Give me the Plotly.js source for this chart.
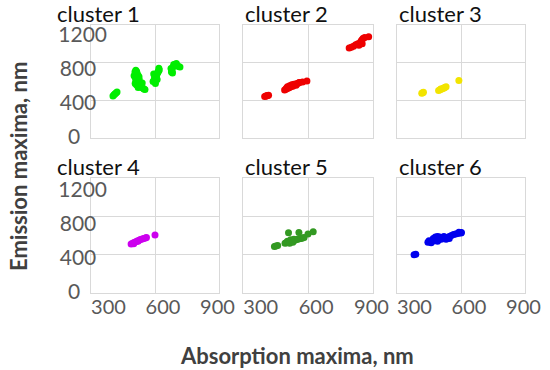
<!DOCTYPE html>
<html><head><meta charset="utf-8">
<script src="https://cdn.plot.ly/plotly-3.0.1.min.js"></script>
<style>html,body{margin:0;padding:0;background:#fff}#chart{width:550px;height:370px}</style>
</head><body><div id="chart"></div>
<script>
const clusterNames = ["cluster 1","cluster 2","cluster 3","cluster 4","cluster 5","cluster 6"];
const clusterColors = ["#00ee00","#ee0000","#f2e400","#cc00ee","#339922","#0000ee"];
const xTickVals = [300,600,900];
const xTickText = ["300","600","900"];
const yTickVals = [0,400,800,1200];
const yTickText = ["0\u00a0\u00a0\u00a0\u00a0\u00a0","400\u00a0\u00a0","800\u00a0\u00a0","1200"];

const x1 = [403,408,412,417,422, 506,510,515,520,525,508,512,518,522,507,513,519,524,510,516,521,528,535,542,548,553,530,540,502,514,526,538, 591,596,600,604,608,612,616,620,598,606,614,602,610,594,618, 675,678,680,682,677,684,690,697,704,710,717,700,688];
const y1 = [446,458,467,477,488, 700,720,690,670,650,640,625,610,595,580,565,555,545,600,570,535,560,540,530,520,515,575,585,660,705,620,545, 600,615,630,650,670,690,710,722,640,660,700,580,620,680,740, 738,720,705,690,700,754,765,775,770,760,754,790,780];
const x2 = [400,406,412,418,409, 492,498,504,510,516,522,528,534,540,546,552,558,505,515,525,535,545,500,512,530,560,575,595, 790,800,810,820,830,840,845,850,855,862,835,850,880];
const y2 = [440,445,450,455,448, 510,518,525,532,540,548,556,562,568,575,580,586,545,555,565,572,560,528,535,550,590,596,605, 955,965,975,990,1000,1010,1030,1045,1060,1068,985,1000,1075];
const x3 = [416,420,424, 495,502,510,517,524,530,505,520, 590];
const y3 = [474,480,486, 505,512,520,528,536,543,520,530, 610];
const x4 = [488,495,502,510,517,525,532,540,547,555,560,500,520,600];
const y4 = [512,520,527,535,543,550,557,563,568,574,580,515,540,606];
const x5 = [445,452,460, 494,500,508,515,522,530,538,545,552,560,568,575,582,505,520,535,515,530,510,558,600,624];
const y5 = [485,490,495, 520,525,530,535,540,545,550,555,560,565,570,575,580,540,555,560,520,530,629,632,615,640];
const x6 = [380,388, 445,455,465,475,485,495,505,515,525,535,545,555,565,575,585,595,600,470,480,490,500,510,520,450,460,490,530,545,590,602];
const y6 = [400,405, 530,535,540,545,550,555,560,565,575,580,590,600,610,615,620,630,625,570,585,590,585,580,590,545,525,540,560,570,635,632];

const xs = [x1,x2,x3,x4,x5,x6];
const ys = [y1,y2,y3,y4,y5,y6];

const colDom = [[91/550,219/550],[243/550,373/550],[397/550,525/550]];
const rowDom = [[1-138/370,1-25/370],[1-293/370,1-178/370]];

const fam = "Lato, 'Open Sans', sans-serif";
const yTickFont = {family:fam, size:21, color:"#595959"};
const xTickFont = {family:fam, size:20, color:"#595959"};
const grid = "#d9d9d9";

const data = [];
const layout = {
  width:550, height:370,
  margin:{l:0,r:0,t:0,b:0},
  paper_bgcolor:"#fff", plot_bgcolor:"#fff",
  showlegend:false,
  annotations:[]
};

for (let i=0;i<6;i++){
  const r = Math.floor(i/3), c = i%3;
  const sfx = i===0 ? "" : String(i+1);
  data.push({
    type:"scatter", mode:"markers",
    x: xs[i], y: ys[i],
    xaxis:"x"+sfx, yaxis:"y"+sfx,
    marker:{size:7, color:clusterColors[i], line:{width:0}},
    hoverinfo:"skip"
  });
  layout["xaxis"+sfx] = {
    domain: colDom[c], anchor:"y"+sfx,
    range:[300,900], tickvals:xTickVals,
    showticklabels:false, ticks:"",
    showgrid:true, gridcolor:grid, gridwidth:1,
    showline:true, mirror:true, linecolor:grid, linewidth:1,
    zeroline:false, fixedrange:true
  };
  layout["yaxis"+sfx] = {
    domain: rowDom[r], anchor:"x"+sfx,
    range:[0,1200], tickvals:yTickVals,
    showticklabels:false, ticks:"",
    showgrid:true, gridcolor:grid, gridwidth:1,
    showline:true, mirror:true, linecolor:grid, linewidth:1,
    zeroline:false, fixedrange:true
  };
  layout.annotations.push({
    text: clusterNames[i],
    xref:"x"+sfx+" domain", yref:"y"+sfx+" domain",
    x:0, y:1, xanchor:"left", yanchor:"bottom",
    xshift: c===0 ? -36 : 0, yshift:-4,
    showarrow:false,
    font:{family:fam, size:22, color:"#111"}
  });
}

// tick-label axes (labels only) overlaid on the grid axes
const labelAxes = [
  {kind:"y", name:"y7", base:"y", anchor:"x", range:[-17.7,1318]},
  {kind:"y", name:"y8", base:"y4", anchor:"x4", range:[-17.6,1335]},
  {kind:"x", name:"x7", base:"x4", anchor:"y4", range:[203.7,908.3]},
  {kind:"x", name:"x8", base:"x5", anchor:"y5", range:[203.7,908.3]},
  {kind:"x", name:"x9", base:"x6", anchor:"y6", range:[203.7,908.3]}
];
labelAxes.forEach(a=>{
  const ax = {
    overlaying: a.base, anchor: a.anchor, range: a.range,
    showgrid:false, showline:false, zeroline:false, ticks:"",
    fixedrange:true
  };
  if (a.kind==="y"){
    ax.tickvals = yTickVals; ax.ticktext = yTickText; ax.tickfont = yTickFont;
    ax.side = "left"; ax.ticklabelstandoff = -17;
    layout["yaxis"+a.name.slice(1)] = ax;
    data.push({type:"scatter", mode:"markers", x:[], y:[], xaxis:a.anchor, yaxis:a.name, hoverinfo:"skip"});
  } else {
    ax.tickvals = xTickVals; ax.ticktext = xTickText; ax.tickfont = xTickFont;
    ax.side = "bottom";
    layout["xaxis"+a.name.slice(1)] = ax;
    data.push({type:"scatter", mode:"markers", x:[], y:[], xaxis:a.name, yaxis:a.anchor, hoverinfo:"skip"});
  }
});

layout.annotations.push({
  text:"<b>Absorption maxima, nm</b>",
  xref:"paper", yref:"paper", x:297/550, y:1-355/370,
  xanchor:"center", yanchor:"middle", showarrow:false,
  font:{family:fam, size:22, color:"#404040"}
});
layout.annotations.push({
  text:"<b>Emission maxima, nm</b>",
  xref:"paper", yref:"paper", x:18/550, y:1-167/370,
  xanchor:"center", yanchor:"middle", textangle:-90, showarrow:false,
  font:{family:fam, size:22, color:"#404040"}
});

Plotly.newPlot("chart", data, layout, {staticPlot:true, displayModeBar:false});
</script>
</body></html>
